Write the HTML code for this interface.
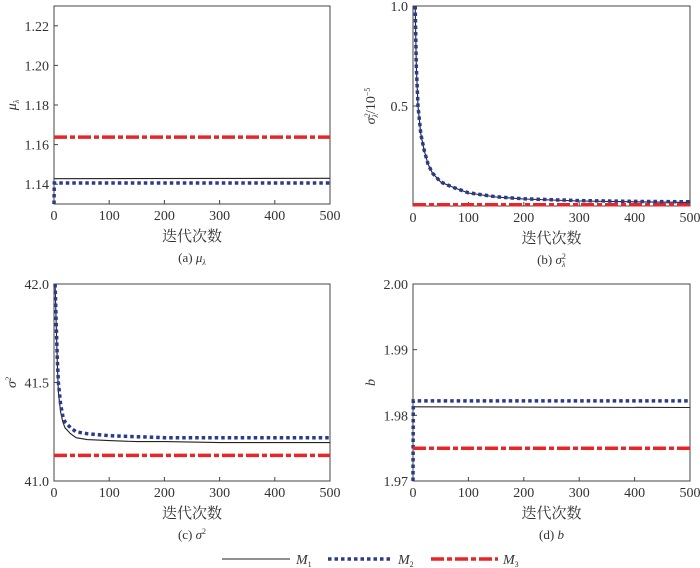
<!DOCTYPE html>
<html><head><meta charset="utf-8"><style>
html,body{margin:0;padding:0;background:#fff;}
svg{display:block;font-family:"Liberation Serif","Noto Serif CJK SC",serif;}
</style></head><body>
<svg id="c" width="700" height="568" viewBox="0 0 700 568"></svg>
<script>
const xTicks=[0,100,200,300,500,400];
const aY=[1.14,1.16,1.18,1.20,1.22];
const aM1X=[0,500], aM1=[1.1428,1.1430];
const aM2X=[0,0.5,500], aM2=[1.13,1.1406,1.1406];
const aM3X=[0,500], aM3=[1.1638,1.1638];
const bY=[0.5,1.0];
const bX=[4,6,9,14,20,27,35,50,71,100,150,200,300,400,500];
const bM1=[1.0,0.7,0.5,0.36,0.28,0.21,0.165,0.12,0.095,0.065,0.045,0.035,0.025,0.021,0.018];
const bM2=[1.0,0.7,0.5,0.36,0.28,0.21,0.165,0.12,0.095,0.066,0.046,0.036,0.027,0.023,0.021];
const bM3X=[0,500], bM3=[0.006,0.006];
const cY=[41.0,41.5,42.0];
const cX=[2,4,6,8,12,16,20,30,40,60,100,150,200,300,500];
const cM1=[42.0,41.8,41.6,41.45,41.35,41.3,41.27,41.24,41.22,41.21,41.205,41.2,41.2,41.195,41.195];
const cM2=[42.0,41.8,41.62,41.5,41.39,41.33,41.3,41.27,41.25,41.24,41.23,41.225,41.22,41.22,41.22];
const cM3X=[0,500], cM3=[41.13,41.13];
const dY=[1.97,1.98,1.99,2.00];
const dM1X=[0,500], dM1=[1.9813,1.9812];
const dM2X=[0,0.5,500], dM2=[1.97,1.9822,1.9822];
const dM3X=[0,500], dM3=[1.975,1.975];

const NS="http://www.w3.org/2000/svg";
const svg=document.getElementById('c');
function el(t,a,p){const e=document.createElementNS(NS,t);for(const k in a)e.setAttribute(k,a[k]);(p||svg).appendChild(e);return e;}
const styles={
 m1:{stroke:'#222',"stroke-width":1.1,fill:'none'},
 m2:{stroke:'#2b3a8c',"stroke-width":3.5,"stroke-dasharray":"3.5 3",fill:'none'},
 m3:{stroke:'#e8262a',"stroke-width":3.5,"stroke-dasharray":"13 3 5 3",fill:'none'}
};
function panel(id,L,R,T,B,y0,y1,yt,dec,series,ylab,xlab,cap){
 const g=el('g',{});
 
 
 const sx=v=>L+(v/500)*(R-L), sy=v=>B-(v-y0)/(y1-y0)*(B-T);
 const box=el('rect',{x:L,y:T,width:R-L,height:B-T,fill:'none',stroke:'#444','stroke-width':1},g);
 
 
 xTicks.forEach(v=>{
  el('line',{x1:sx(v),x2:sx(v),y1:B,y2:B-4,stroke:'#444'},g);
  const t=el('text',{x:sx(v),y:B+16,'text-anchor':'middle','font-size':14,fill:'#333'},g);
  t.textContent=v;
  
  
 });
 yt.forEach(v=>{
  el('line',{x1:L,x2:L+4,y1:sy(v),y2:sy(v),stroke:'#444'},g);
  const t=el('text',{x:L-5,y:sy(v)+5,'text-anchor':'end','font-size':14,fill:'#333'},g);
  t.textContent=v.toFixed(dec);
  
  
 });
 series.forEach(s=>{
  const d=s.x.map((x,i)=>(i?'L':'M')+sx(x).toFixed(1)+' '+sy(s.y[i]).toFixed(1)).join(' ');
  const p=el('path',Object.assign({d:d},styles[s.k]),g);
  
  
 });
 const xl=el('text',{x:(L+R)/2,y:B+37,'text-anchor':'middle','font-size':15,fill:'#333'},g);
 xl.textContent=xlab;
 
 
 const yl=el('text',{x:0,y:0,transform:`translate(${L-38},${(T+B)/2}) rotate(-90)`,'text-anchor':'middle','font-size':14,'font-style':'italic',fill:'#333'},g);
 yl.innerHTML=ylab;
 
 
 const cp=el('text',{x:(L+R)/2,y:B+58,'text-anchor':'middle','font-size':13,fill:'#333'},g);
 cp.innerHTML=cap;
 
 
}
const X='迭代次数';
panel('a',54,330,6,204,1.13,1.23,aY,2,[{k:'m1',x:aM1X,y:aM1},{k:'m2',x:aM2X,y:aM2},{k:'m3',x:aM3X,y:aM3}],
 'μ<tspan font-size="8" dy="3">λ</tspan>',X,'(a) <tspan font-style="italic">μ</tspan><tspan font-size="8" dy="3" font-style="italic">λ</tspan>');
panel('b',413,690,6,206,0,1.0,bY,1,[{k:'m3',x:bM3X,y:bM3},{k:'m1',x:bX,y:bM1},{k:'m2',x:bX,y:bM2}],
 'σ<tspan font-size="8" dy="-5">2</tspan><tspan font-size="8" dy="8" dx="-4">λ</tspan><tspan font-style="normal" dy="-3">/10</tspan><tspan font-size="8" dy="-5" font-style="normal">−5</tspan>',X,'(b) <tspan font-style="italic">σ</tspan><tspan font-size="8" dy="-5">2</tspan><tspan font-size="8" dy="8" dx="-4" font-style="italic">λ</tspan>');
panel('c',54,330,284,481,41.0,42.0,cY,1,[{k:'m3',x:cM3X,y:cM3},{k:'m1',x:cX,y:cM1},{k:'m2',x:cX,y:cM2}],
 'σ<tspan font-size="8" dy="-5">2</tspan>',X,'(c) <tspan font-style="italic">σ</tspan><tspan font-size="8" dy="-5">2</tspan>');
panel('d',413,690,284,481,1.97,2.00,dY,2,[{k:'m1',x:dM1X,y:dM1},{k:'m2',x:dM2X,y:dM2},{k:'m3',x:dM3X,y:dM3}],
 'b',X,'(d) <tspan font-style="italic">b</tspan>');

const lg=el('g',{});


[['m1',222,290,296,'1'],['m2',328,393,398,'2'],['m3',431,498,503,'3']].forEach(e=>{
 const l=el('line',Object.assign({x1:e[1],x2:e[2],y1:559,y2:559},styles[e[0]]),lg);
 
 
 const t=el('text',{x:e[3],y:564,'font-size':14,'font-style':'italic',fill:'#333'},lg);
 t.innerHTML='M<tspan font-size="8" dy="3" font-style="normal">'+e[4]+'</tspan>';
 
 
});
</script>
</body></html>
